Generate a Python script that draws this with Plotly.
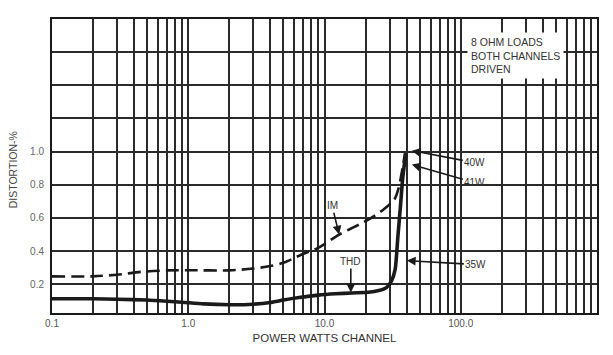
import math
import plotly.graph_objects as go

# ---- data ----
thd_x = [0.1, 0.2, 0.3, 0.5, 0.7, 0.9, 1.3, 2.0, 3.0, 4.0, 5.0, 6.5, 9.0, 12, 16, 21, 25, 28.5, 31, 33, 34.5, 36, 37.5, 39.5]
thd_y = [0.113, 0.113, 0.11, 0.105, 0.098, 0.092, 0.082, 0.077, 0.08, 0.09, 0.105, 0.12, 0.135, 0.143, 0.148, 0.152, 0.162, 0.18, 0.22, 0.29, 0.48, 0.66, 0.84, 0.99]

im_x = [0.1, 0.2, 0.3, 0.45, 0.7, 1.0, 2.0, 3.0, 4.0, 5.0, 6.8, 9, 12.8, 16, 21, 27, 32.5, 35, 37, 39]
im_y = [0.248, 0.248, 0.258, 0.275, 0.284, 0.285, 0.284, 0.295, 0.31, 0.33, 0.38, 0.42, 0.5, 0.54, 0.59, 0.65, 0.71, 0.78, 0.88, 0.99]

x_tickvals = [0.1, 1, 10, 100]
x_ticktext = ["0.1", "1.0", "10.0", "100.0"]
x_minor = [m * d for d in [0.1, 1, 10, 100] for m in range(2, 10)]

y_tickvals = [0.2, 0.4, 0.6, 0.8, 1.0, 1.2, 1.4, 1.6]
y_ticktext = ["0.2", "0.4", "0.6", "0.8", "1.0", "", "", ""]

# callouts: (label, x, y, ax, ay)
callouts = [
    ("IM", 12.8, 0.5, -7, -29),
    ("THD", 15.6, 0.15, 0, -31),
    ("40W", 43.7, 1.006, 63, 12),
    ("41W", 43.7, 0.922, 63, 18),
    ("35W", 40.2, 0.343, 69, 4),
]

INK = "#1a1a1a"
GRID = "#2a2a2a"
FONT = "Liberation Sans"

fig = go.Figure()
fig.add_trace(go.Scatter(x=im_x, y=im_y, mode="lines",
                         line=dict(color=INK, width=2.6, dash="13px,6px", shape="spline", smoothing=0.8),
                         showlegend=False, hoverinfo="skip"))
fig.add_trace(go.Scatter(x=thd_x, y=thd_y, mode="lines",
                         line=dict(color=INK, width=3.6, shape="spline", smoothing=0.6),
                         showlegend=False, hoverinfo="skip"))

for label, x, y, ax, ay in callouts:
    fig.add_annotation(x=math.log10(x), y=y, xref="x", yref="y", text=label, showarrow=True,
                       ax=ax, ay=ay, arrowhead=2, arrowsize=1.1, arrowwidth=1.6,
                       arrowcolor=INK, font=dict(family=FONT, size=10, color="#333"),
                       standoff=0)

fig.add_annotation(xref="paper", yref="paper", x=0.762, y=0.955, xanchor="left", yanchor="top",
                   text="8 OHM LOADS<br>BOTH CHANNELS<br>DRIVEN", showarrow=False, align="left",
                   bgcolor="white", borderpad=3,
                   font=dict(family=FONT, size=10.5, color="#333"))

fig.add_annotation(xref="paper", yref="paper", x=-0.072, y=0.488, xanchor="center", yanchor="middle",
                   textangle=-90, text="DISTORTION-%", showarrow=False,
                   font=dict(family=FONT, size=10.5, color="#444"))

fig.update_xaxes(type="log", range=[-1, 3], tickvals=x_tickvals, ticktext=x_ticktext,
                 showgrid=True, gridcolor=GRID, gridwidth=1.5,
                 minor=dict(tickmode="array", tickvals=x_minor, showgrid=True,
                            gridcolor=GRID, gridwidth=1.5, ticks=""),
                 showline=True, linecolor=INK, linewidth=2, mirror=True,
                 ticks="", zeroline=False,
                 tickfont=dict(family=FONT, size=10, color="#555"),
                 title=dict(text="POWER WATTS CHANNEL", standoff=6,
                            font=dict(family=FONT, size=11.5, color="#333")))
fig.update_yaxes(range=[0.027, 1.8], tickvals=y_tickvals, ticktext=y_ticktext,
                 showgrid=True, gridcolor=GRID, gridwidth=1.5,
                 showline=True, linecolor=INK, linewidth=2, mirror=True,
                 ticks="", zeroline=False, ticklabelstandoff=4,
                 tickfont=dict(family=FONT, size=10, color="#666"))

fig.update_layout(width=613, height=355, margin=dict(l=52, r=16, t=19, b=39),
                  paper_bgcolor="white", plot_bgcolor="white")

fig.write_html("out.html")
